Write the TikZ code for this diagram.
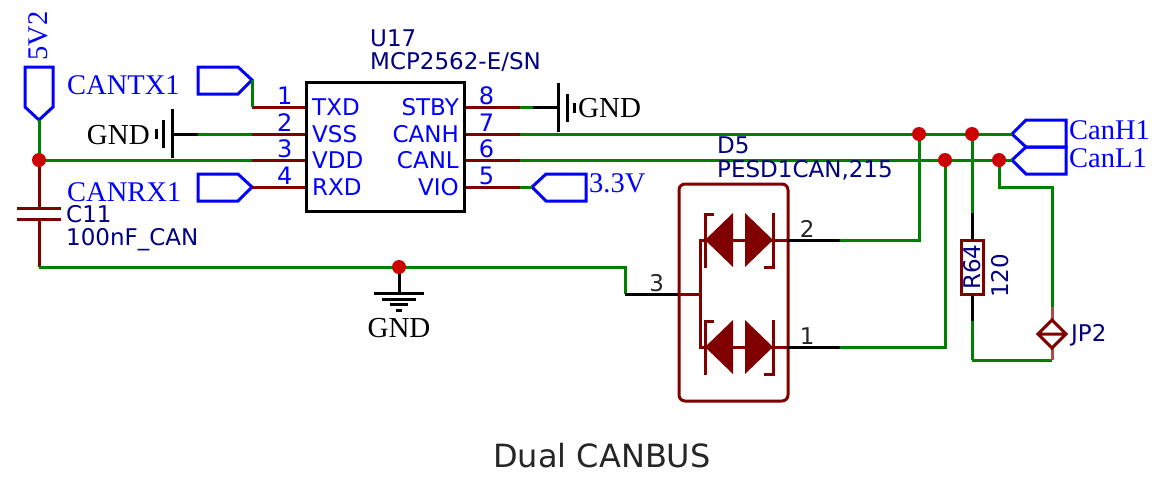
\documentclass[tikz,border=0pt]{standalone}
\usepackage{fontspec}
\setmainfont{Liberation Serif}
\newfontfamily\schfont{DejaVu Sans}
\usepackage{xcolor}
\usepackage{tikz}
\definecolor{wirecol}{HTML}{008000}
\definecolor{pincol}{HTML}{800000}
\definecolor{dotcol}{HTML}{CC0000}
\definecolor{portcol}{HTML}{0000FF}
\definecolor{refcol}{HTML}{000080}
\tikzset{
	wire/.style={draw=wirecol,line width=3pt},
	pinline/.style={draw=pincol,line width=3pt},
	tail/.style={draw=black,line width=3pt},
	port/.style={draw=portcol,line width=3pt,line join=miter},
	dot/.style={circle,fill=dotcol,inner sep=0pt,minimum size=14pt},
	portname/.style={text=portcol,font=\fontsize{28.5}{30}\selectfont,inner sep=0pt},
	gndname/.style={text=black,font=\fontsize{29}{30}\selectfont,inner sep=0pt},
	pinname/.style={text=portcol,font=\schfont\fontsize{23}{24}\selectfont,inner sep=0pt},
	pinnum/.style={text=portcol,font=\schfont\fontsize{24}{24}\selectfont,inner sep=1pt,above},
	pinnumb/.style={text=black!85,font=\schfont\fontsize{23}{24}\selectfont,inner sep=1pt},
	refname/.style={text=refcol,font=\schfont\fontsize{23}{24}\selectfont,inner sep=0pt},
}
\begin{document}
\begin{tikzpicture}[x=1pt,y=-1pt]
		\useasboundingbox (0,0) rectangle (1154,480);
		%
		\coordinate (J1) at (39,160);
		\coordinate (J2) at (399,267);
		\coordinate (J3) at (919,134);
		\coordinate (J4) at (972,134);
		\coordinate (J5) at (945,160);
		\coordinate (J6) at (999,160);
		%
		\coordinate (T5) at (39,120);
		\coordinate (TTX) at (252,80);
		\coordinate (TRX) at (252,187);
		\coordinate (T33) at (532,187);
		\coordinate (TH) at (1012,134);
		\coordinate (TL) at (1012,160);
		%
		% pins of U17
		\coordinate (P1) at (252,107);
		\coordinate (P2) at (252,134);
		\coordinate (P3) at (252,160);
		\coordinate (P4) at (252,187);
		\coordinate (P8) at (520,107);
		\coordinate (P7) at (520,134);
		\coordinate (P6) at (520,160);
		\coordinate (P5) at (520,187);
		\node[draw=black,line width=3pt,fill=white,minimum width=158pt,minimum height=129pt,inner sep=0pt] (U) at (385.5,147) {};
		\coordinate (U1) at (U.west |- P1);
		\coordinate (U2) at (U.west |- P2);
		\coordinate (U3) at (U.west |- P3);
		\coordinate (U4) at (U.west |- P4);
		\coordinate (U8) at (U.east |- P8);
		\coordinate (U7) at (U.east |- P7);
		\coordinate (U6) at (U.east |- P6);
		\coordinate (U5) at (U.east |- P5);
		%
		\draw[port] (25,67) -- (53,67) -- (53,107) -- (T5) -- (25,107) -- cycle;
		\draw[port] (198,67) -- (238,67) -- (TTX) -- (238,94) -- (198,94) -- cycle;
		\draw[port] (198,174) -- (238,174) -- (TRX) -- (238,201) -- (198,201) -- cycle;
		\draw[port] (T33) -- (546,174) -- (586,174) -- (586,201) -- (546,201) -- cycle;
		\draw[port] (TH) -- (1026,120) -- (1066,120) -- (1066,147) -- (1026,147) -- cycle;
		\draw[port] (TL) -- (1026,147) -- (1066,147) -- (1066,174) -- (1026,174) -- cycle;
		%
		\node[portname,rotate=90] (N5V) at (38,36) {5V2};
		\node[portname,anchor=west] (NTX) at (67,85) {CANTX1};
		\node[portname,anchor=west] (NRX) at (67,192) {CANRX1};
		\node[portname,anchor=west] (N33) at (589,183) {3.3V};
		\node[portname,anchor=west] (NH) at (1069,130) {CanH1};
		\node[portname,anchor=west] (NL) at (1069,158) {CanL1};
		%
		\node[pinname,anchor=west] (LTXD) at (312,107) {TXD};
		\node[pinname,anchor=west] (LVSS) at (312,134) {VSS};
		\node[pinname,anchor=west] (LVDD) at (312,160) {VDD};
		\node[pinname,anchor=west] (LRXD) at (312,187) {RXD};
		\node[pinname,anchor=east] (LSTBY) at (459,107) {STBY};
		\node[pinname,anchor=east] (LCANH) at (459,134) {CANH};
		\node[pinname,anchor=east] (LCANL) at (459,160) {CANL};
		\node[pinname,anchor=east] (LVIO) at (459,187) {VIO};
		%
		\path[pinline]
		(P1) edge node[pinnum,pos=0.62]{1} (U1)
		(P2) edge node[pinnum,pos=0.62]{2} (U2)
		(P3) edge node[pinnum,pos=0.62]{3} (U3)
		(P4) edge node[pinnum,pos=0.62]{4} (U4)
		(U8) edge node[pinnum,pos=0.38]{8} (P8)
		(U7) edge node[pinnum,pos=0.38]{7} (P7)
		(U6) edge node[pinnum,pos=0.38]{6} (P6)
		(U5) edge node[pinnum,pos=0.38]{5} (P5);
		%
		% GND left and right
		\coordinate (GL) at (198,134);
		\coordinate (GLB) at (172,134);
		\coordinate (GR) at (533,107);
		\coordinate (GRB) at (558,107);
		\path[wire]
		(P2) edge (GL)
		(P8) edge (GR)
		(P5) edge (T33)
		(T5) edge (J1)
		(J1) edge (P3)
		(P7) edge (TH)
		(P6) edge (TL);
		\draw[wire] (TTX) -- (P1);
		\path[tail]
		(GL) edge (GLB)
		(GR) edge (GRB);
		\draw[tail] (172,109) -- (172,158) (163,120) -- (163,148) (156,129) -- (156,139);
		\draw[tail] (558,83) -- (558,132) (567,94) -- (567,122) (574,103) -- (574,113);
		\node[gndname,anchor=east] (GNDL) at (150,135) {GND};
		\node[gndname,anchor=west] (GNDR) at (578,108) {GND};
		%
		% C11
		\coordinate (CA) at (39,208);
		\coordinate (CB) at (39,219);
		\coordinate (CE) at (39,267);
		\draw[pinline] (17,208) -- (61,208) (17,219) -- (61,219);
		\path[pinline]
		(J1) edge (CA)
		(CB) edge (CE);
		\node[refname,anchor=west] (C11) at (66,214) {C11};
		\node[refname,anchor=west] (C11v) at (66,240) {100nF\_CAN};
		%
		% D5
		\coordinate (W3) at (625,294);
		\coordinate (D3) at (678,294);
		\coordinate (D3i) at (700,294);
		\coordinate (D2) at (840,240);
		\coordinate (D1) at (840,347);
		\draw[wire] (CE) -- (625,267) -- (W3);
		\path[tail] (W3) edge node[pinnumb,above,pos=0.6]{3} (D3);
		\path[pinline] (D3) edge (D3i);
		\draw[pinline,line join=miter,rounded corners=6pt] (679,184) rectangle (788,401);
		\draw[pinline] (705,240) -- (700,240) -- (700,347) -- (705,347);
		\foreach \dy in {0,107} {
			\draw[pinline] (705,240+\dy) -- (788,240+\dy);
			\fill[pincol] (705,240+\dy) -- (733,213+\dy) -- (733,267+\dy) -- cycle;
			\fill[pincol] (773,240+\dy) -- (745,213+\dy) -- (745,267+\dy) -- cycle;
			\draw[pincol,line width=3pt] (714,214+\dy) -- (705,214+\dy) -- (705,268+\dy);
			\draw[pincol,line width=3pt] (764,267+\dy) -- (773,267+\dy) -- (773,213+\dy);
		}
		\coordinate (B2) at (788,240);
		\coordinate (B1) at (788,347);
		\path[tail]
		(B2) edge node[pinnumb,above,pos=0.37]{2} (D2)
		(B1) edge node[pinnumb,above,pos=0.37]{1} (D1);
		\draw[wire] (D2) -| (J3);
		\draw[wire] (D1) -| (J5);
		\node[refname,anchor=west] (D5) at (717,145) {D5};
		\node[refname,anchor=west] (D5v) at (717,170) {PESD1CAN,215};
		%
		% R64 and JP2
		\node[draw=pincol,line width=3pt,minimum width=22pt,minimum height=54pt,inner sep=0pt] (R64) at (972,267) {};
		\node[refname,rotate=90] (R64n) at (972,267) {R64};
		\node[refname,rotate=90] (R64v) at (1000,276) {120};
		\coordinate (Ra) at (972,213);
		\coordinate (Rb) at (972,321);
		\coordinate (Rc) at (972,360);
		\coordinate (JT) at (1052,307);
		\coordinate (JA) at (1052,320);
		\coordinate (JB) at (1052,348);
		\coordinate (JC) at (1052,360);
		\path[wire]
		(J4) edge (Ra)
		(Rb) edge (Rc)
		(Rc) edge (JC);
		\path[tail]
		(Ra) edge (R64.north)
		(R64.south) edge (Rb);
		\draw[wire] (J6) |- (1052,187) -- (JT);
		\path[pinline,draw=pincol!70]
		(JT) edge (JA)
		(JB) edge (JC);
		\draw[pinline] (JA) -- (1066,334) -- (JB) -- (1038,334) -- cycle (1038,334) -- (1066,334);
		\node[refname,anchor=west] (JP2) at (1071,335) {JP2};
		%
		% GND lower
		\coordinate (GD) at (399,293);
		\path[tail] (J2) edge (GD);
		\draw[tail] (374,293) -- (424,293) (382,299) -- (416,299) (390,304) -- (408,304) (396,310) -- (402,310);
		\node[gndname] (GNDD) at (399,328) {GND};
		%
		\node[dot] at (J1) {};
		\node[dot] at (J2) {};
		\node[dot] at (J3) {};
		\node[dot] at (J4) {};
		\node[dot] at (J5) {};
		\node[dot] at (J6) {};
		%
		\node[text=black!85,font=\schfont\fontsize{32}{34}\selectfont,inner sep=0pt] (T) at (602,456) {Dual CANBUS};
		\node[refname,anchor=west] (U17) at (370,38) {U17};
		\node[refname,anchor=west] (U17v) at (370,62) {MCP2562-E/SN};
		\end{tikzpicture}
\end{document}
